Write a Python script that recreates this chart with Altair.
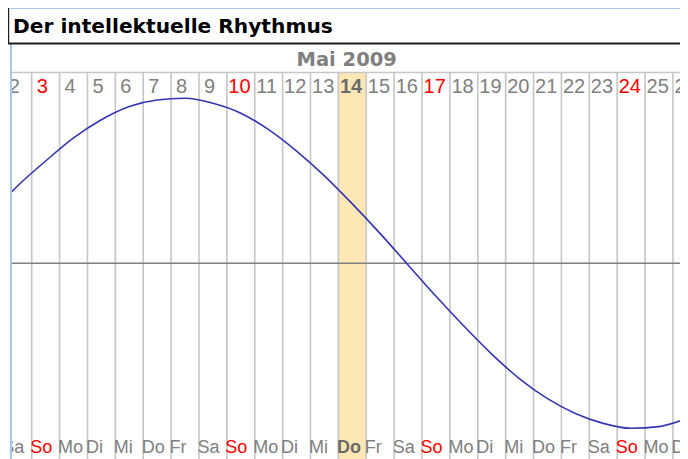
import altair as alt
import pandas as pd

title_text = "Der intellektuelle Rhythmus"
month_label = "Mai 2009"
today = 14

days = list(range(1, 27))
weekdays = ["Fr", "Sa", "So", "Mo", "Di", "Mi", "Do", "Fr", "Sa", "So", "Mo", "Di", "Mi",
            "Do", "Fr", "Sa", "So", "Mo", "Di", "Mi", "Do", "Fr", "Sa", "So", "Mo", "Di"]

curve_days = list(range(1, 28))
curve_values = [29, 47, 62, 76, 87, 95, 99, 100, 97, 91, 81, 68, 53, 36, 18, -1,
                -20, -38, -55, -70, -82, -91, -97, -100, -99, -94, -86]

cal = pd.DataFrame({"day": days, "wd": weekdays})
cal["label"] = cal["day"].astype(str)
cal["kind"] = ["today" if d == today else ("sun" if w == "So" else "norm")
               for d, w in zip(days, weekdays)]
cal["left"] = cal["day"] - 0.5
cal["right"] = cal["day"] + 0.5
cal["digits"] = cal["label"].str.len()

curve = pd.DataFrame({"day": curve_days, "value": curve_values})
zero = pd.DataFrame({"v": [0]})
dummy = pd.DataFrame({"a": [0]})

W = 673
H = 454
xs = alt.Scale(domain=[1.614, 25.753], nice=False, zero=False)
ys = alt.Scale(domain=[-118.6, 156.55], nice=False, zero=False)
cs = alt.Scale(domain=["norm", "sun", "today"], range=["#808080", "#ff0000", "#6b6b6b"])

X_TOP = 67.5
Y_BOT = H + 2

highlight = alt.Chart(cal).transform_filter(alt.datum.kind == "today").mark_rect(
    color="#fde8b5").encode(
    x=alt.X("left:Q", scale=xs, axis=None), x2="right:Q",
    y=alt.value(X_TOP), y2=alt.value(Y_BOT))

grid = alt.Chart(cal).mark_rule(color="#c6c6c6", strokeWidth=1.6).encode(
    x=alt.X("right:Q", scale=xs, axis=None),
    y=alt.value(X_TOP), y2=alt.value(Y_BOT))

header_line = alt.Chart(dummy).mark_rule(color="#c6c6c6", strokeWidth=1.6).encode(
    x=alt.value(3), x2=alt.value(700), y=alt.value(X_TOP))

midline = alt.Chart(zero).mark_rule(color="#808080", strokeWidth=1.6).encode(
    y=alt.Y("v:Q", scale=ys, axis=None), x=alt.value(3), x2=alt.value(700))


def day_layer(filt, dx, weight):
    return alt.Chart(cal).transform_filter(filt).mark_text(
        align="left", baseline="alphabetic", font="Liberation Sans", fontSize=20,
        fontWeight=weight, dx=dx).encode(
        x=alt.X("left:Q", scale=xs, axis=None),
        y=alt.value(88.3),
        text="label:N",
        color=alt.Color("kind:N", scale=cs, legend=None))


def wd_layer(filt, weight):
    return alt.Chart(cal).transform_filter(filt).mark_text(
        align="left", baseline="alphabetic", font="Liberation Sans", fontSize=18,
        fontWeight=weight, dx=-1.5).encode(
        x=alt.X("left:Q", scale=xs, axis=None),
        y=alt.value(448.3),
        text="wd:N",
        color=alt.Color("kind:N", scale=cs, legend=None))


days1 = day_layer((alt.datum.digits == 1) & (alt.datum.kind != "today"), 5, "normal")
days2 = day_layer((alt.datum.digits == 2) & (alt.datum.kind != "today"), 1.5, "normal")
days_t = day_layer(alt.datum.kind == "today", 1.5, "bold")
wd_n = wd_layer(alt.datum.kind != "today", "normal")
wd_t = wd_layer(alt.datum.kind == "today", "bold")

line = alt.Chart(curve).mark_line(
    color="#3535b5", strokeWidth=1.6, interpolate="monotone", clip=True).encode(
    x=alt.X("day:Q", scale=xs, axis=None),
    y=alt.Y("value:Q", scale=ys, axis=None))

# white margin left of the frame line, then the light blue frame
left_cover = alt.Chart(dummy).mark_rect(color="white").encode(
    x=alt.value(-2), x2=alt.value(3.2), y=alt.value(0), y2=alt.value(Y_BOT))

blue_left = alt.Chart(dummy).mark_rule(color="#a9c6e6", strokeWidth=2).encode(
    x=alt.value(4), y=alt.value(3), y2=alt.value(Y_BOT))

title_box = alt.Chart(dummy).mark_rect(fill="white", stroke="#1e1e1e", strokeWidth=2).encode(
    x=alt.value(1.2), x2=alt.value(700), y=alt.value(0.8), y2=alt.value(38.5))

blue_top = alt.Chart(dummy).mark_rule(color="#a9c6e6", strokeWidth=1.5).encode(
    x=alt.value(2.5), x2=alt.value(700), y=alt.value(3.2))

title = alt.Chart(dummy).mark_text(
    text=title_text, align="left", baseline="alphabetic", font="DejaVu Sans",
    fontWeight="bold", fontSize=20.2, color="#000000").encode(
    x=alt.value(6), y=alt.value(28.3))

month = alt.Chart(dummy).mark_text(
    text=month_label, align="center", baseline="alphabetic", font="DejaVu Sans",
    fontWeight="bold", fontSize=19.5, color="#7f7f7f").encode(
    x=alt.value(339.7), y=alt.value(61))

chart = alt.layer(
    highlight, grid, header_line, midline,
    days1, days2, days_t, wd_n, wd_t, line,
    left_cover, blue_left, title_box, blue_top, title, month
).properties(
    width=W, height=H,
    padding={"left": -1, "top": -3, "right": 0, "bottom": 0},
    autosize=alt.AutoSizeParams(type="none"),
).configure_view(strokeWidth=0)

chart.save("out.html", embed_options={"renderer": "svg", "actions": False})
